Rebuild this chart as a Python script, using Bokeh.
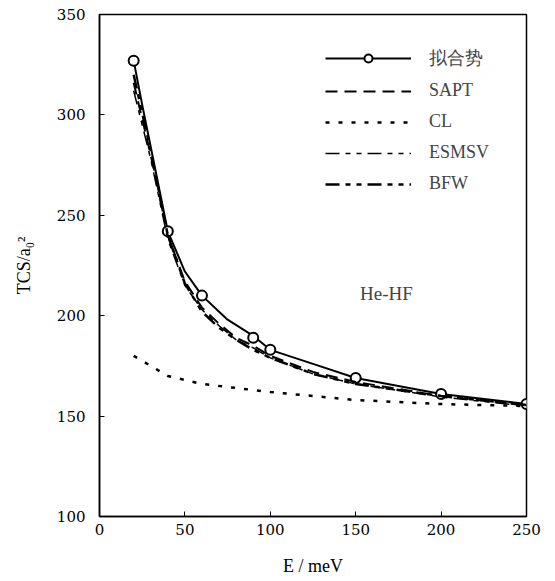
from bokeh.plotting import figure
from bokeh.models import Label, Legend, LegendItem, FixedTicker
from bokeh.embed import file_html
from bokeh.resources import INLINE

# --- data ---
fit_E = [20, 25, 30, 40, 50, 60, 75, 90, 100, 125, 150, 200, 250]
fit_TCS = [327, 305, 284, 242, 222, 210, 198, 190, 183, 176, 169, 161, 156]
fit_mark_E = [20, 40, 60, 90, 100, 150, 200, 250]
fit_mark_TCS = [327, 242, 210, 189, 183, 169, 161, 156]

sapt_E = [20, 30, 40, 50, 60, 70, 80, 90, 100, 125, 150, 200, 250]
sapt_TCS = [316, 280, 240, 217, 204, 196, 189, 185, 180, 172, 167, 160, 155.5]

cl_E = [20, 40, 60, 80, 100, 125, 150, 200, 250]
cl_TCS = [180, 170, 166, 164, 162, 160, 158, 156, 155]

esmsv_E = [20, 30, 40, 50, 60, 70, 80, 90, 100, 125, 150, 200, 250]
esmsv_TCS = [312, 278, 238, 215, 203, 195, 188, 184, 179, 171, 166, 159.5, 155]

bfw_E = [20, 30, 40, 50, 60, 70, 80, 90, 100, 125, 150, 200, 250]
bfw_TCS = [320, 282, 240, 216, 202, 194, 188, 183, 179, 171, 166, 160, 155.5]

x_ticks = [0, 50, 100, 150, 200, 250]
y_ticks = [100, 150, 200, 250, 300, 350]

labels = ["拟合势", "SAPT", "CL", "ESMSV", "BFW"]
x_title = "E / meV"
y_title = "TCS/a\u2080\u00b2"

SERIF = "Liberation Serif"
TICKFONT = "DejaVu Serif"

W, H = 550, 578
p = figure(width=W, height=H, x_range=(0, 250), y_range=(100, 350),
           output_backend="svg", toolbar_location=None,
           min_border_left=99, min_border_right=24, min_border_top=14, min_border_bottom=62)
p.grid.visible = False
p.background_fill_color = "white"
p.border_fill_color = "white"
p.outline_line_color = "black"
p.outline_line_width = 1.5

for ax in (p.xaxis[0], p.yaxis[0]):
    ax.major_tick_in = 5
    ax.major_tick_out = 0
    ax.minor_tick_line_color = None
    ax.axis_line_width = 1.5
    ax.major_tick_line_width = 1
    ax.major_label_text_font = TICKFONT
    ax.major_label_text_font_size = "15px"
    ax.major_label_text_color = "black"
    ax.axis_line_color = "black"
    ax.axis_label_text_font = SERIF
    ax.axis_label_text_font_style = "normal"
    ax.axis_label_text_font_size = "18px"
    ax.axis_label_text_color = "black"
p.xaxis.ticker = FixedTicker(ticks=x_ticks)
p.yaxis.ticker = FixedTicker(ticks=y_ticks)
p.xaxis.major_label_standoff = 7
p.yaxis.major_label_standoff = 14

p.yaxis.axis_label = y_title
p.yaxis.axis_label_standoff = 20
p.xaxis.axis_label = x_title
p.xaxis.axis_label_standoff = 18

r_fit = p.line(fit_E, fit_TCS, line_color="black", line_width=2)
r_fitm = p.scatter(fit_mark_E, fit_mark_TCS, marker="circle", size=10,
                   fill_color="white", line_color="black", line_width=2)
r_sapt = p.line(sapt_E, sapt_TCS, line_color="black", line_width=2, line_dash="12 7")
r_cl = p.line(cl_E, cl_TCS, line_color="black", line_width=2.5, line_dash="4 9")
r_esm = p.line(esmsv_E, esmsv_TCS, line_color="black", line_width=1.5,
               line_dash="14 6 5 6 5 6")
r_bfw = p.line(bfw_E, bfw_TCS, line_color="black", line_width=2.5,
               line_dash="14 6 5 6 5 6")

legend = Legend(items=[
    LegendItem(label=labels[0], renderers=[r_fit, r_fitm]),
    LegendItem(label=labels[1], renderers=[r_sapt]),
    LegendItem(label=labels[2], renderers=[r_cl]),
    LegendItem(label=labels[3], renderers=[r_esm]),
    LegendItem(label=labels[4], renderers=[r_bfw]),
], location=(226, 322))
legend.border_line_color = None
legend.background_fill_alpha = 0
legend.padding = 0
legend.margin = 0
legend.glyph_width = 86
legend.glyph_height = 20
legend.label_height = 20
legend.spacing = 10
legend.label_standoff = 18
legend.label_text_font = SERIF
legend.label_text_font_size = "18px"
p.add_layout(legend, "center")

p.add_layout(Label(x=168, y=211, text="He-HF", text_font=SERIF, text_font_size="19px",
                   text_align="center", text_baseline="middle"))

open("out.html", "w").write(file_html(p, INLINE))
